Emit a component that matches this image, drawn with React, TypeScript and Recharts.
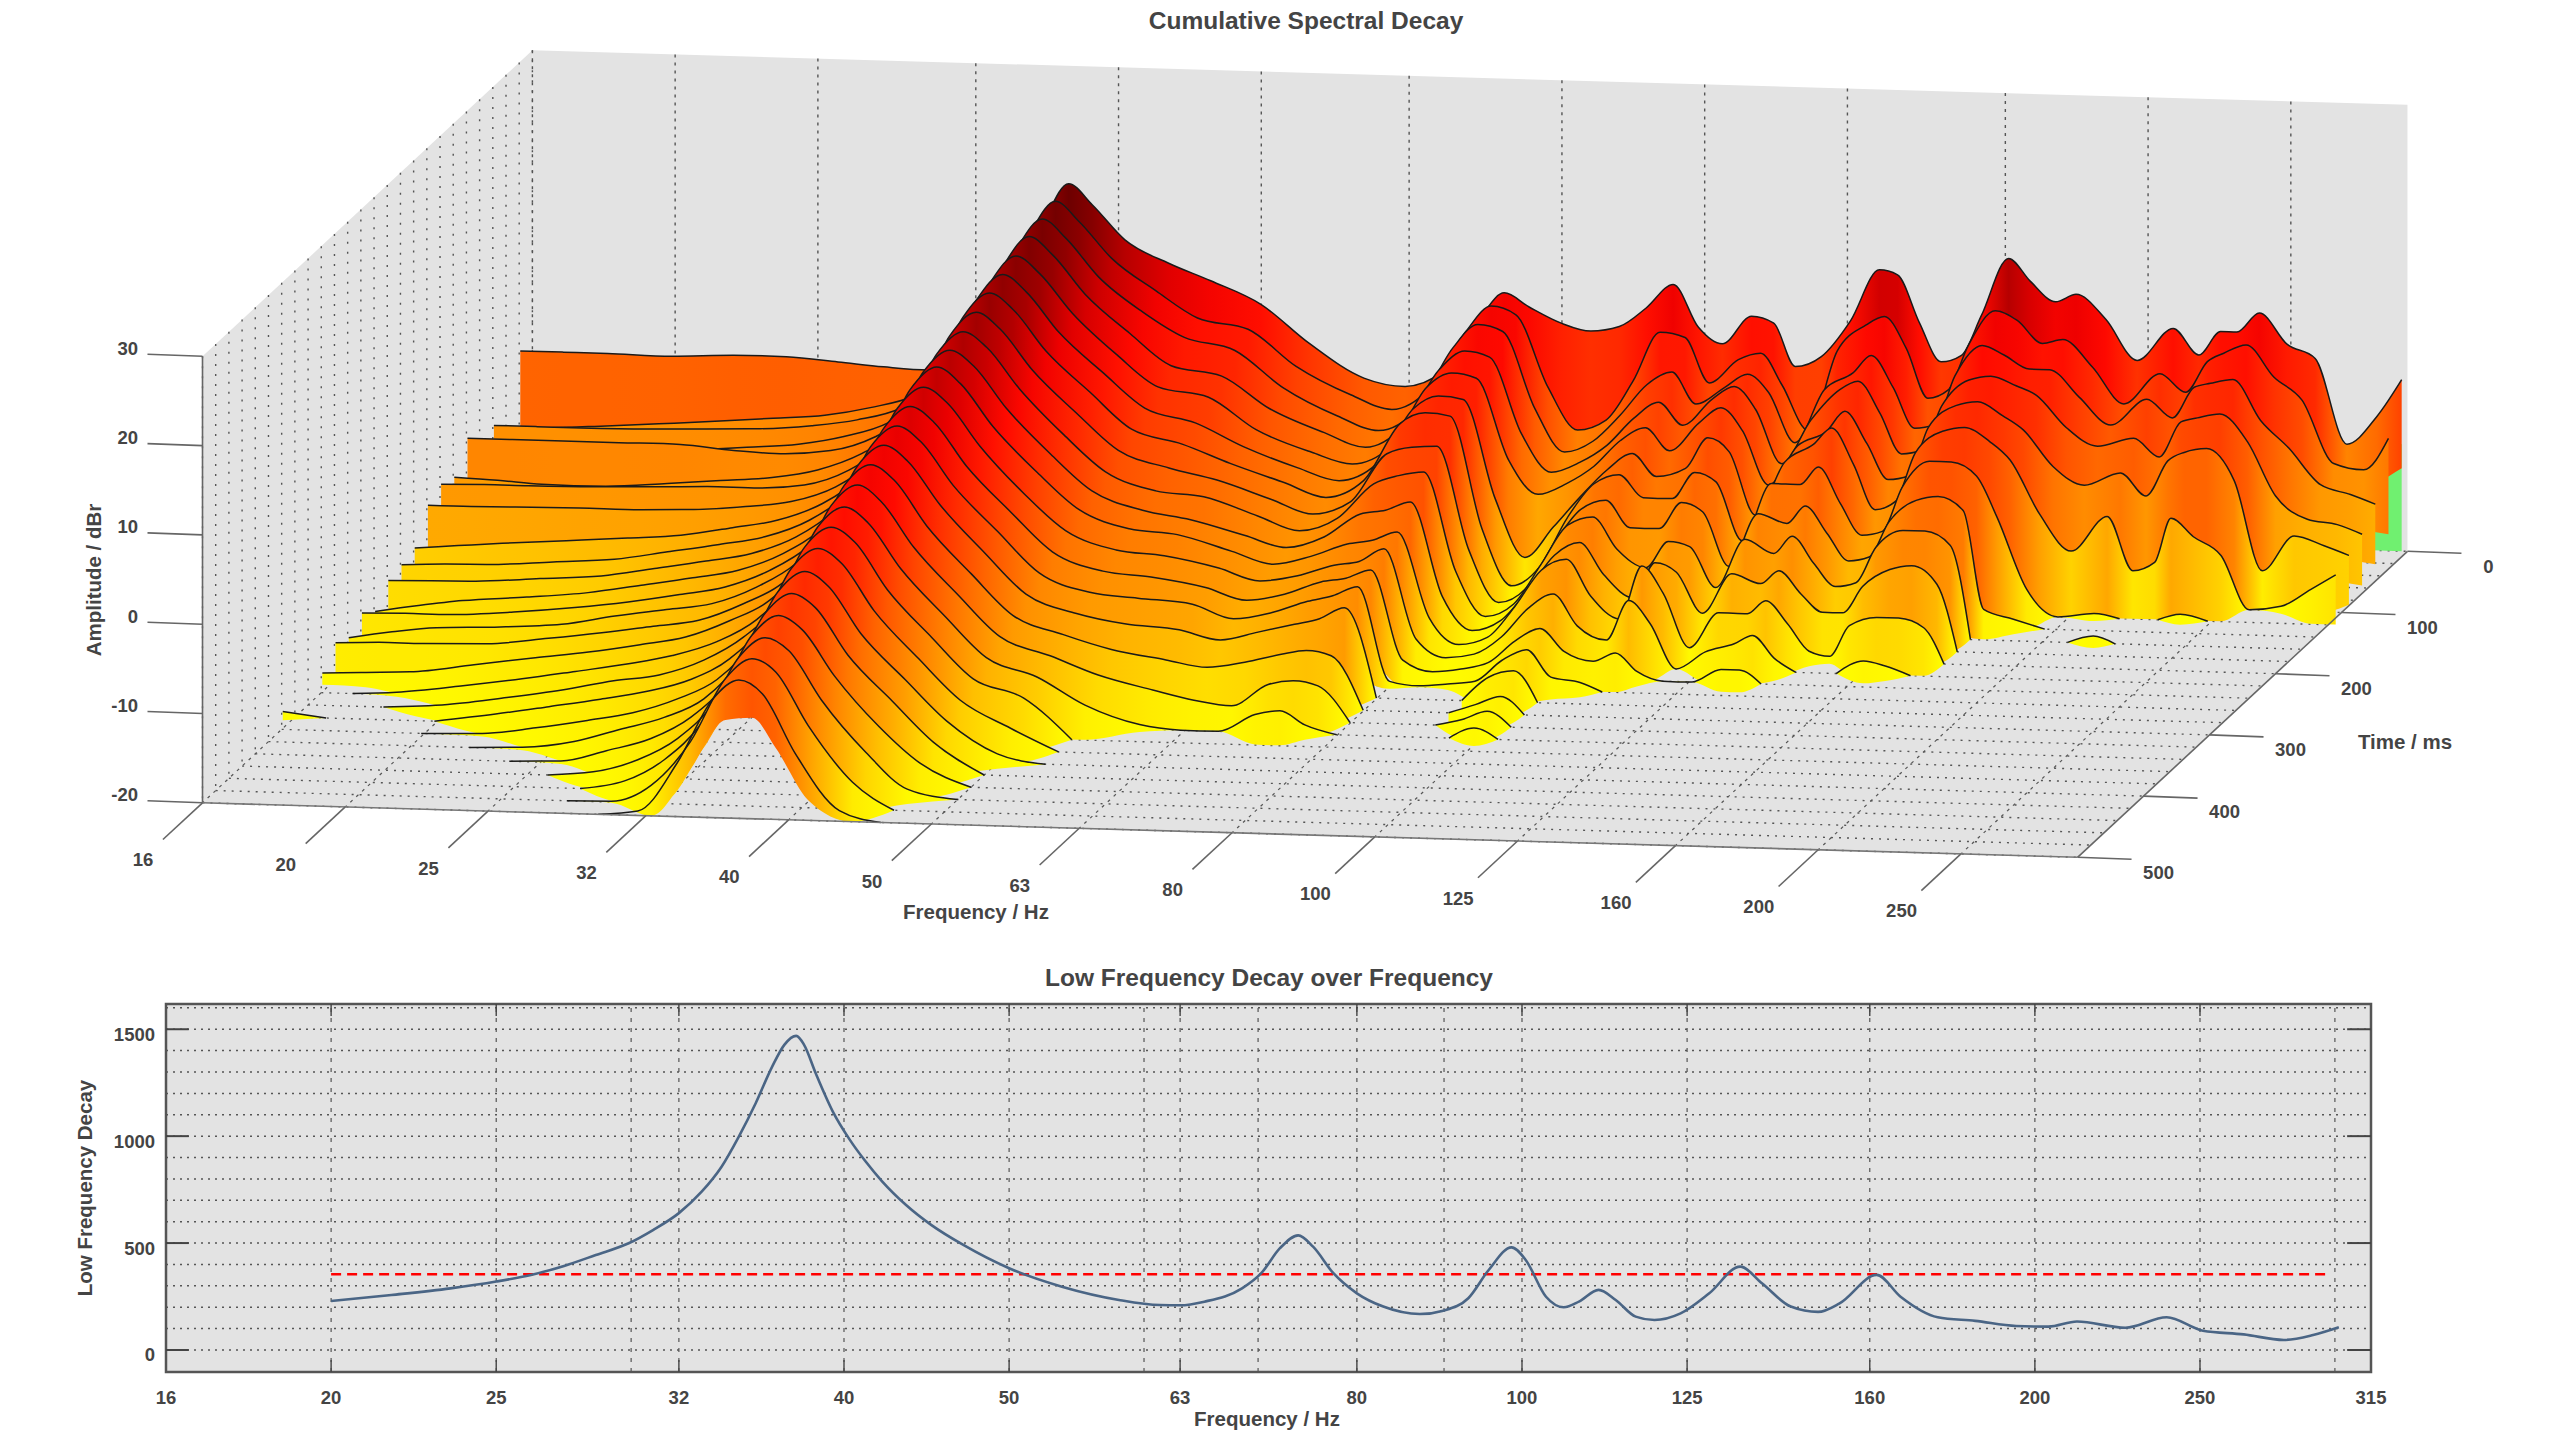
import React from 'react';
import { ComposedChart, Area, Line, XAxis, YAxis, ReferenceLine, ReferenceArea, CartesianGrid } from 'recharts';

// ---------- waterfall data: amplitude (dBr) for slices t = 0, 20, 40 ... 500 ms, one list per frequency
const sliceTimes = [0,20,40,60,80,100,120,140,160,180,200,220,240,260,280,300,320,340,360,380,400,420,440,460,480,500];
const sliceHz = [15.7,16.8,18,19.9,21.9,23.8,25.8,27.7,29.7,31.6,33.6,35.5,37,38.4,40.4,43.3,46.2,50,53.9,58.7,62.6,66.4,70.3,73.1,76,79.9,83.7,87.5,91.3,95.2,99,102.8,107.6,111.4,115.2,120,125.6,131.4,135.2,139.9,144.7,149.4,154.1,160.8,166.4,173.1,178.7,187.2,196.6,208,216.5,224,229.8,238,248.5,259.7,272.9,286,297.3];
const decay: number[][] = [
[-3.7,-11,-9.3,-11,-8,-11,-10.4,-11.4,-14.8,-15.3,-15.7,-17.8,-16.6,-18,-17.2,-19.2,-20,-20,-19.4],
[-3.7,-10.8,-9.3,-10.9,-8,-11.2,-10.3,-11.4,-14.4,-15.1,-15.6,-17,-16.5,-17.2,-17,-19,-20],
[-3.7,-10.5,-9.3,-10.8,-8,-11.5,-10.3,-11.3,-14,-15,-15.5,-16.3,-16.5,-16.6,-17,-18.8,-19.7],
[-3.8,-10,-9.2,-10.5,-8,-11.5,-10.2,-11.2,-13.5,-14.5,-15,-15.7,-16,-16.3,-16.8,-17.8,-18.8,-19.5],
[-3.5,-9.5,-9,-10,-8,-11,-10,-11.2,-13,-14,-14.5,-15,-15.3,-15.8,-16,-16.8,-17.8,-18.5,-19,-19.8],
[-3.5,-9,-8.8,-9.5,-8.5,-10.5,-9.8,-11,-12.5,-13,-13.5,-14,-14.5,-14.7,-15.2,-16,-16.8,-17.5,-18,-19,-19.8],
[-3.9,-8.5,-8.3,-9,-8.7,-10,-9.8,-10.5,-11.5,-12,-12.5,-13,-13.5,-13.8,-14.3,-15,-15.8,-16.3,-17,-18,-19,-19.8],
[-4.3,-7.5,-7.5,-8,-8.2,-9,-9.3,-9.8,-10.5,-11,-11.5,-12,-12.5,-13,-13.5,-14,-14.7,-15.5,-16,-17,-17.5,-18.5,-19.5],
[-4.5,-6,-6,-6.3,-6.5,-7,-7.5,-8,-8.5,-9,-9.5,-10,-10.5,-11,-11.5,-12,-13,-13.7,-14.5,-15.3,-16,-17,-18,-19,-19.9],
[-2,-3,-2.8,-3,-3.5,-4,-4.3,-4.8,-5.3,-5.8,-6.3,-7,-7.6,-8.2,-9,-9.6,-10.4,-11,-12,-13,-13.8,-14.5,-15.5,-16.5,-18,-19.5],
[3,3.5,3.2,2.8,2.4,2,1.4,.8,.2,-.4,-1,-1.8,-2.5,-3.2,-4,-4.8,-5.6,-6.5,-7.3,-8.2,-9,-10,-11,-12,-13,-14],
[12,12.3,12,11.5,11,10.5,10,9.3,8.6,8,7.4,6.6,5.8,5.1,4.3,3.5,2.6,1.6,.7,-.3,-1.5,-2.6,-3.7,-4.8,-5.8,-6.8],
[16.8,16.2,15.6,15,14.2,13.5,12.8,12,11.2,10.5,10,9.1,8.3,7.5,6.7,5.9,5,3.9,3,2,.8,-.3,-1.4,-2.5,-3.5,-4.5],
[14.5,14,13.5,13,12.3,11.6,11,10.2,9.5,8.8,8.2,7.4,6.6,5.8,5,4.2,3.2,2.2,1.4,.4,-.8,-1.8,-2.9,-3.9,-4.9,-6],
[10.7,10,9.3,8.7,8,7.2,6.5,5.7,5,4.2,3.5,2.7,1.8,1,.2,-.8,-1.8,-2.8,-3.8,-4.8,-6,-7,-8,-9.3,-10.8,-12.5],
[8.2,6.5,5.5,4.5,3.5,2.8,2,1,0,-.8,-1.5,-2.5,-3.2,-4,-5,-6,-7,-8,-9,-10,-11,-12,-13.5,-15,-17,-18.8],
[6.4,3.6,2.8,1,0,-1,-2,-3,-4,-4.8,-5.5,-6.5,-7.5,-8.5,-9.5,-10.5,-11.5,-12.5,-13.5,-14.5,-15.5,-16.5,-17.5,-19],
[3.9,2.5,1.5,0,-1,-2.5,-3.5,-4.8,-6,-6.8,-7.5,-8.5,-9.5,-10.5,-11.5,-12.5,-13.5,-14.5,-15.5,-17.5,-19],
[-.3,-1.5,-2.5,-3.5,-4.5,-5,-5.5,-6,-6.5,-7.7,-8,-9,-10,-11,-12.5,-14,-15.5,-17.5],
[-4,-4.5,-5.5,-6,-6.8,-7.2,-7.5,-8,-8.5,-9.3,-9.7,-10.2,-11,-11.5,-13,-15,-17,-19.5],
[-4.8,-6,-7,-7.5,-8,-8.5,-9,-9.5,-10,-10.5,-11,-11.5,-12.3,-13,-14,-15.7,-18],
[-3,-3.5,-4.5,-5,-6,-6.5,-7,-8,-8.5,-9.2,-10,-10.8,-11.5,-12.2,-13,-15,-18.5],
[3,3,2.5,1.5,.8,-.2,-.5,-2.5,-4.5,-6.5,-8.5,-9.5,-10,-10.8,-12,-14,-16,-18],
[6,5.9,5.2,3.6,2.5,1.3,.8,-1.7,-3.5,-6,-8,-9,-9.5,-10.1,-11.3,-13.5,-15.5,-17.5],
[4.5,5,4.5,3,2,1,.5,-1.5,-3,-5,-7,-7.5,-8.5,-9,-10,-14,-16,-19],
[2.8,-3,-4,-5.5,-7,-10,-12,-13,-14,-15.5,-16.5,-17.5,-18.5,-19.5],
[2,-7.7,-8.8,-9.7,-10.8,-16.5,-18.3,-18.8,-19,-19.2,-19.4,-19.5,-19.7,-19.9],
[2.6,-6.5,-7.5,-8.5,-9.5,-13,-16,-17,-17.5,-18,-18.5,-19,-19.3,-19.6],
[4.8,-2,-4.5,-6.5,-7.5,-9.5,-10.5,-12,-13,-14.5,-15,-17,-18.5,-19.2],
[7.5,3.5,-1,-3.4,-4.5,-6.4,-6.6,-8.1,-8.5,-10.5,-10.8,-13.7,-16,-16.8,-17.3,-19,-19.3],
[2.8,3,.5,-1.5,-3,-4.5,-5.5,-7,-7.5,-9,-9.5,-12,-14.5,-15.5,-16.5,-18,-18.3,-18.8],
[1,-2,-3,-4,-5.5,-7,-8,-10,-11,-12.5,-13.5,-15.5,-17,-18.5],
[4.2,.7,-1,-1,-2.3,-6,-8,-10,-13,-15,-16,-17,-18,-19],
[3.5,1.5,.5,.5,-.5,-2.5,-5,-7,-10,-11,-10,-12.5,-17],
[-1.3,-2,-1.5,-2,-3,-4,-6,-8,-10.5,-12,-13,-15,-19],
[-.1,-7,-7,-8,-9,-11,-12.5,-14,-15,-16.5,-19],
[4,2,-1,-3,-4.5,-5,-6,-8,-9.5,-12,-15,-18],
[9.8,5,1,.5,-2.8,-2.9,-6,-9,-11,-13,-15,-17,-18.5],
[9.3,6,3,1.5,-.5,-1,-4,-7,-9,-11.5,-13.5,-16,-18.5],
[4,2.5,-.5,-2,-4,-5,-8,-10,-12,-14,-16,-18.5],
[-.3,-3,-5,-6.5,-8,-10,-11.5,-13,-14.5,-16,-19],
[.5,-2,-4.5,-6,-7.5,-9,-11,-12.5,-14,-16,-19.5],
[5,3,1,-1,-2,-3.5,-6,-8.5,-10,-13,-16],
[11.5,7,4.5,2,.5,-1,-3,-6,-8,-11,-15,-18.5],
[9,6,3.5,2.5,1,-.5,-3,-5.5,-8,-10.5,-15,-19],
[6.8,3.5,2,1.5,-.5,-2,-4.5,-7,-9.5,-12.5,-16],
[7.7,4,2,.5,-2,-4,-9,-18],
[5,1,-1,-3,-6,-10,-17,-19],
[.5,-3,-4,-5,-8,-14],
[4.2,.5,-1,-4,-6.5,-10,-19.5],
[1.3,-1.5,-3,-6,-9,-16,-20,-20,-19.2],
[4,2,.5,-2,-5,-15],
[4,3,1,-1.5,-4,-10],
[6.2,4,1.5,-1,-3.5,-12,-19.3],
[2.8,.5,-3,-4,-7,-14],
[1.3,-2,-6,-10,-17],
[-8.2,-9,-10,-12.5,-13,-19.5],
[-5,-9.6,-11,-13,-14,-17.5],
[-.8,-6,-12,-14,-15,-15.8],
];
const edgeHz = [272.9,297.3];
const edgeTop = [-10,-8];

// amplitude to colour
const colorDb = [-20,-17,-15,-11.4,-9,-3.7,0,4,7,10,12,17];
const colorRGB = [[255,255,0],[255,232,0],[255,208,0],[255,160,0],[255,138,0],[255,85,0],[255,48,0],[255,10,0],[238,0,0],[192,0,0],[160,0,0],[106,0,0]];

// 3D axes
const wallHz = [16,20,25,32,40,50,63,80,100,125,160,200,250];
const gridMs = [0,20,40,60,80,100,120,140,160,180,200,220,240,260,280,300,320,340,360,380,400,420,440,460,480,500];
const timeTicks = [0,100,200,300,400,500];
const ampTicks = [-20,-10,0,10,20,30];

// bottom plot
const decayHz = [20,21.7,23.5,25,26.2,27.4,28.6,29.9,30.9,32,33,33.9,34.7,35.5,36.3,36.9,37.5,37.9,38.5,39.4,40.3,41.2,42.1,43.5,45,47,50,53.7,58,61.3,63,65.1,68.5,70.3,72.1,73.9,75.4,77.5,80,82.9,87.1,89.9,93,95.6,98.6,100.5,103.3,105.8,108,110.9,113.5,116.6,119.6,123.9,128.8,134.3,138.3,143.8,149.2,153.6,161.5,166.8,175.4,184.5,195,203.7,211.7,226,239,251,265.2,280,291.3,301.6];
const decayValue = [229,257,288,320,351,393,444,499,561,640,740,857,998,1154,1325,1427,1469,1427,1294,1115,985,880,790,678,585,491,382,296,234,210,209,226,288,359,476,536,483,359,265,203,168,184,242,374,480,421,249,200,226,281,234,156,140,171,265,390,312,203,178,218,351,249,153,136,112,109,133,104,153,90,73,47,70,106];
const limitHz = [20,298];
const limitValue = [354,354];
const lowTicks = [16,20,25,32,40,50,63,80,100,125,160,200,250,315];
const lowGridX = [20,25,30,32,40,50,60,63,70,80,90,100,125,160,200,250,300];
const lowGridY = [0,100,200,300,400,500,600,700,800,900,1000,1100,1200,1300,1400,1500,1600];
const lowYTicks = [0,500,1000,1500];

// projection of (frequency, time, amplitude) on the page
const SX = 443.4, SY = 12.89, TX = 329.9, TY = 306, AY = 8.93, X0 = 202.5, Y0 = 802.8;
const oct = (f: number) => Math.log2(f / 16);
const px = (f: number, t: number) => X0 + oct(f) * SX + (1 - t / 500) * TX;
const py = (f: number, t: number, a: number) => Y0 + oct(f) * SY - (1 - t / 500) * TY - (a + 20) * AY;

const FONT = '"Liberation Sans", Arial, sans-serif';
const INK = '#444444';

const colorOf = (a: number) => {
  const v = Math.max(-20, Math.min(17, a));
  let k = 0;
  while (k < colorDb.length - 2 && v > colorDb[k + 1]) k++;
  const u = (v - colorDb[k]) / (colorDb[k + 1] - colorDb[k]);
  const c = colorRGB[k].map((p, m) => Math.round(p + (colorRGB[k + 1][m] - p) * u));
  return `rgb(${c[0]},${c[1]},${c[2]})`;
};

const seg = (x1: number, y1: number, x2: number, y2: number) => [
  { x: x1, v: [y1, y1] },
  { x: x2, v: [y2, y2] },
];

const amp = (j: number, i: number) => (j < 0 || j >= sliceHz.length || i >= sliceTimes.length ? -20 : decay[j][i] ?? -20);

// surface of slice i at page position x: height, floor height and amplitude
const sliceAt = (i: number, x: number) => {
  const t = sliceTimes[i];
  const n = sliceHz.length;
  let j = 0;
  while (j < n - 2 && px(sliceHz[j + 1], t) < x) j++;
  const x1 = px(sliceHz[j], t);
  const x2 = px(sliceHz[j + 1], t);
  const u = Math.max(0, Math.min(1, (x - x1) / (x2 - x1)));
  const a = amp(j, i) + (amp(j + 1, i) - amp(j, i)) * u;
  const y = py(sliceHz[j], t, amp(j, i)) + (py(sliceHz[j + 1], t, amp(j + 1, i)) - py(sliceHz[j], t, amp(j, i))) * u;
  const floor = py(sliceHz[j], t, -20) + (py(sliceHz[j + 1], t, -20) - py(sliceHz[j], t, -20)) * u;
  return { a, y, floor };
};

const STEP_Y = (20 / 500) * TY;

const stripData = (i: number) => {
  const t = sliceTimes[i];
  const last = i === sliceTimes.length - 1;
  return sliceHz.map((f, j) => {
    const a = amp(j, i);
    const show = a > -20 || amp(j - 1, i) > -20 || amp(j + 1, i) > -20;
    const x = px(f, t);
    const top = py(f, t, a);
    if (!show) return { x, v: null };
    if (last) return { x, v: [top, top] };
    const next = sliceAt(i + 1, x);
    // strips overlap the next one, which paints over them; a strip that reaches the floor tapers out on it
    const base = next.a <= -19.8 ? py(f, t, -20) + Math.min(STEP_Y, (a + 20) * 6) : Math.min(next.y + 30, next.floor);
    return { x, v: [base, top] };
  });
};

const lineArea = (key: string, data: any[], stroke: string, width: number, dash?: string) => (
  <Area
    key={key}
    data={data}
    dataKey="v"
    type="linear"
    stroke={stroke}
    strokeWidth={width}
    strokeDasharray={dash}
    fill="none"
    dot={false}
    activeDot={false}
    legendType="none"
    isAnimationActive={false}
  />
);

const pane = (key: string, data: any[]) => (
  <Area key={key} data={data} dataKey="v" type="linear" stroke="none" fill="#e3e3e3" fillOpacity={1} dot={false} activeDot={false} isAnimationActive={false} />
);

const A = { x: px(16, 500), y: py(16, 500, -20) };
const B = { x: px(16, 0), y: py(16, 0, -20) };
const D = { x: px(300, 500), y: py(300, 500, -20) };
const C = { x: px(300, 0), y: py(300, 0, -20) };
const lerpY = (p: any, q: any, x: number) => p.y + ((q.y - p.y) * (x - p.x)) / (q.x - p.x);

const floorPane = [
  { x: A.x, v: [A.y, A.y] },
  { x: B.x, v: [lerpY(A, D, B.x), B.y] },
  { x: D.x, v: [D.y, lerpY(B, C, D.x)] },
  { x: C.x, v: [C.y, C.y] },
];
const backPane = [
  { x: px(16, 0), v: [py(16, 0, -20), py(16, 0, 30)] },
  { x: px(300, 0), v: [py(300, 0, -20), py(300, 0, 30)] },
];
const sidePane = [
  { x: px(16, 500), v: [py(16, 500, -20), py(16, 500, 30)] },
  { x: px(16, 0), v: [py(16, 0, -20), py(16, 0, 30)] },
];

const txt = (key: string, x: number, y: number, s: string, size = 18.5, anchor = 'middle', rot?: number) => (
  <text
    key={key}
    x={x}
    y={y}
    fontFamily={FONT}
    fontWeight="bold"
    fontSize={size}
    fill={INK}
    textAnchor={anchor}
    dominantBaseline="central"
    transform={rot ? `rotate(${rot} ${x} ${y})` : undefined}
  >
    {s}
  </text>
);

const decayData = decayHz.map((hz, i) => ({ hz, value: decayValue[i] }));
const limitData = limitHz.map((hz, i) => ({ hz, limit: limitValue[i] }));

const YTick = (p: any) => (
  <text x={p.x + 5} y={p.y + 5} fontFamily={FONT} fontWeight="bold" fontSize={18.5} fill={INK} textAnchor="end" dominantBaseline="central">
    {p.payload.value}
  </text>
);

export default function App() {
  return (
    <div style={{ position: 'absolute', left: 0, top: 0, width: 2560, height: 1440, background: '#fff', overflow: 'hidden' }}>
      <style>{`.recharts-area-curve ~ .recharts-area-curve{stroke:none}`}</style>
      <div style={{ position: 'absolute', left: 0, top: 0 }}>
        <ComposedChart width={2560} height={960} margin={{ top: 0, right: 0, bottom: 0, left: 0 }}>
          <defs>
            {sliceTimes.map((t, i) => {
              const x1 = px(sliceHz[0], t);
              const x2 = px(sliceHz[sliceHz.length - 1], t);
              return (
                <linearGradient key={t} id={`slice${i}`} gradientUnits="userSpaceOnUse" x1={x1} y1={0} x2={x2} y2={0}>
                  {sliceHz.map((f, j) => (
                    <stop key={f} offset={(px(f, t) - x1) / (x2 - x1)} stopColor={colorOf(0.8 * amp(j, i) + 0.2 * amp(j, i + 1))} />
                  ))}
                </linearGradient>
              );
            })}
          </defs>
          <XAxis hide type="number" dataKey="x" domain={[0, 2560]} allowDataOverflow />
          <YAxis hide type="number" domain={[0, 960]} reversed allowDataOverflow />

          {pane('side', sidePane)}
          {pane('back', backPane)}
          {pane('floor', floorPane)}

          {wallHz.map((f) => lineArea(`wv${f}`, seg(px(f, 0), py(f, 0, 30), px(f, 0), py(f, 0, -20)), '#555', 1.4, '3 5'))}
          {gridMs.map((t) => lineArea(`sv${t}`, seg(px(16, t), py(16, t, 30), px(16, t), py(16, t, -20)), '#555', 1.4, '2 8'))}
          {gridMs.map((t) => lineArea(`ft${t}`, seg(px(16, t), py(16, t, -20), px(300, t), py(300, t, -20)), '#555', 1.4, '2 6'))}
          {wallHz.map((f) => lineArea(`ff${f}`, seg(px(f, 0), py(f, 0, -20), px(f, 500), py(f, 500, -20)), '#555', 1.2, '3 5'))}

          <Area
            key="edge"
            data={edgeHz.map((f, k) => ({ x: px(f, 0), v: [py(f, 0, -20), py(f, 0, edgeTop[k])] }))}
            dataKey="v"
            type="linear"
            stroke="none"
            fill="#70f070"
            fillOpacity={1}
            dot={false}
            activeDot={false}
            isAnimationActive={false}
          />
          {sliceTimes.map((t, i) => (
            <Area
              key={`s${t}`}
              data={stripData(i)}
              dataKey="v"
              type="monotoneX"
              stroke="#1a1a1a"
              strokeWidth={1.5}
              fill={`url(#slice${i})`}
              fillOpacity={1}
              dot={false}
              activeDot={false}
              isAnimationActive={false}
            />
          ))}

          {lineArea('axisZ', seg(px(16, 500), py(16, 500, 30), px(16, 500), py(16, 500, -20)), '#666', 1.6)}
          {lineArea('edgeF', seg(A.x, A.y, D.x, D.y), '#777', 1.6)}
          {lineArea('edgeT', seg(D.x, D.y, C.x, C.y), '#666', 1.6)}
          {wallHz.map((f) => lineArea(`tf${f}`, seg(px(f, 500), py(f, 500, -20), px(f, 560), py(f, 560, -20)), '#666', 1.6))}
          {timeTicks.map((t) => lineArea(`tt${t}`, seg(px(300, t), py(300, t, -20), px(300, t) + 54, py(300, t, -20) + 2), '#666', 1.6))}
          {ampTicks.map((a) => lineArea(`ta${a}`, seg(px(16, 500), py(16, 500, a), px(16, 500) - 55, py(16, 500, a) - 2), '#666', 1.6))}

          {txt('title', 1306, 20, 'Cumulative Spectral Decay', 24.5)}
          {wallHz.map((f) => txt(`lf${f}`, px(f, 590), py(f, 590, -20) + 2, String(f)))}
          {timeTicks.map((t) => txt(`lt${t}`, px(300, t) + 81, py(300, t, -20) + 15, String(t)))}
          {ampTicks.map((a) => txt(`la${a}`, 138, py(16, 500, a) - 8, String(a), 18.5, 'end'))}
          {txt('lbF', 976, 911, 'Frequency / Hz', 20.5)}
          {txt('lbT', 2405, 741, 'Time / ms', 20.5)}
          {txt('lbA', 93, 580, 'Amplitude / dBr', 20.5, 'middle', -90)}
        </ComposedChart>
      </div>
      <div style={{ position: 'absolute', left: 0, top: 960 }}>
        <ComposedChart width={2560} height={480} data={decayData} margin={{ top: 44, right: 189, bottom: 18, left: 96 }}>
          <CartesianGrid fill="#e3e3e3" stroke="none" horizontal={false} vertical={false} />
          <XAxis
            type="number"
            dataKey="hz"
            scale="log"
            domain={[16, 315]}
            allowDataOverflow
            ticks={lowTicks}
            interval={0}
            height={50}
            axisLine={false}
            tickLine={false}
            tickMargin={13}
            tick={{ fontFamily: FONT, fontWeight: 'bold', fontSize: 18.5, fill: INK }}
          />
          <YAxis
            type="number"
            domain={[-103, 1618]}
            allowDataOverflow
            ticks={lowYTicks}
            interval={0}
            width={70}
            axisLine={false}
            tickLine={false}
            tickMargin={10}
            tick={YTick}
          />
          {lowGridY.map((y) => (
            <ReferenceLine key={`gy${y}`} y={y} stroke="#555" strokeWidth={1.5} strokeDasharray="2 5" />
          ))}
          {lowGridX.map((x) => (
            <ReferenceLine key={`gx${x}`} x={x} stroke="#555" strokeWidth={1.2} strokeDasharray="4 6" />
          ))}
          {lowTicks.slice(1, -1).flatMap((x) => [
            <ReferenceLine key={`tb${x}`} segment={[{ x, y: -103 }, { x, y: -47 }]} stroke="#444" strokeWidth={1.4} />,
            <ReferenceLine key={`tt${x}`} segment={[{ x, y: 1618 }, { x, y: 1562 }]} stroke="#444" strokeWidth={1.4} />,
          ])}
          {lowYTicks.flatMap((y) => [
            <ReferenceLine key={`tl${y}`} segment={[{ x: 16, y }, { x: 16.5, y }]} stroke="#444" strokeWidth={2} />,
            <ReferenceLine key={`tr${y}`} segment={[{ x: 315, y }, { x: 305, y }]} stroke="#444" strokeWidth={2} />,
          ])}
          <ReferenceArea x1={16} x2={315} y1={-103} y2={1618} fill="none" stroke="#555" strokeWidth={2.5} ifOverflow="visible" />
          <Line data={limitData} dataKey="limit" type="linear" stroke="#ff0000" strokeWidth={2.6} strokeDasharray="10 6" dot={false} activeDot={false} isAnimationActive={false} />
          <Line dataKey="value" type="monotone" stroke="#4a6585" strokeWidth={2.6} dot={false} activeDot={false} isAnimationActive={false} />
          {txt('t2', 1269, 17, 'Low Frequency Decay over Frequency', 24.5)}
          {txt('x2', 1267, 458, 'Frequency / Hz', 20.5)}
          {txt('y2', 84, 228, 'Low Frequency Decay', 20.5, 'middle', -90)}
        </ComposedChart>
      </div>
    </div>
  );
}
